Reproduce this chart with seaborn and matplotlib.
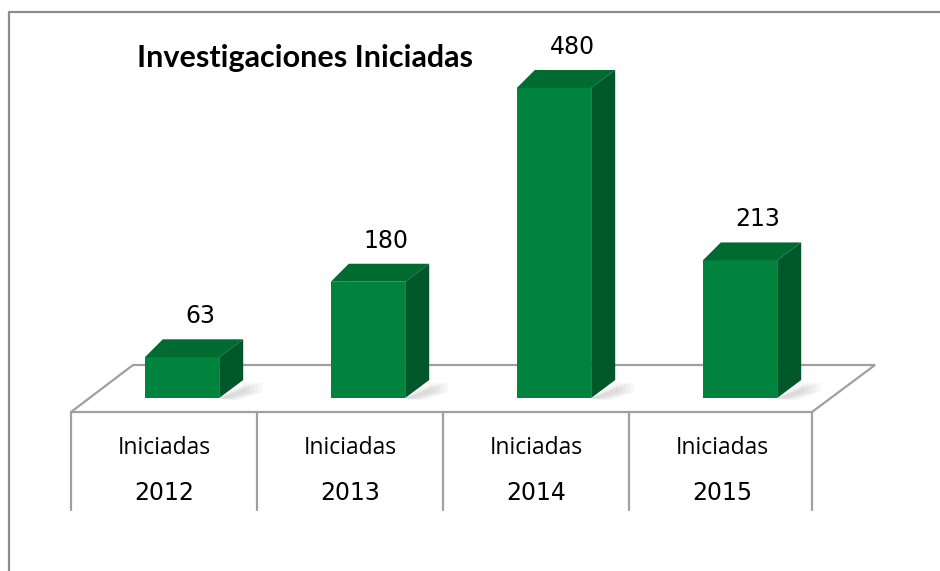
import pandas as pd
import seaborn as sns
import matplotlib.pyplot as plt
from matplotlib.patches import Polygon
from matplotlib.lines import Line2D

# chart data
years = ["2012", "2013", "2014", "2015"]
row_label = "Iniciadas"
values = [63, 180, 480, 213]
title = "Investigaciones Iniciadas"

W, H = 940, 571
front_color = "#00843d"
top_color = "#006b31"
side_color = "#00572a"
line_gray = "#a0a0a0"
frame_gray = "#8c8c8c"

sns.set_theme(style="white")
plt.rcParams["font.family"] = ["DejaVu Sans"]

fig = plt.figure(figsize=(W / 100, H / 100), dpi=100)
fig.patch.set_facecolor("white")


def ff(x, y):
    """pixel (from top-left) -> figure fraction"""
    return x / W, 1 - y / H


ax = fig.add_axes([89 / W, 1 - 398 / H, 744 / W, 310 / H])
df = pd.DataFrame({"year": years, "value": values})
sns.barplot(data=df, x="year", y="value", color=front_color, saturation=1,
            width=0.4, linewidth=0, ax=ax, zorder=4)
ax.set_xlim(-0.5, 3.5)
ax.set_ylim(0, 480)
ax.axis("off")

# depth of the fake 3d boxes (pixels)
dx_l, dx_r, dy = 18, 24, 18


def to_px(x, y):
    X, Y = ax.transData.transform((x, y))
    return X, H - Y


def poly(pts, **kw):
    p = Polygon([ff(*pt) for pt in pts], closed=True, transform=fig.transFigure,
                clip_on=False, **kw)
    ax.add_patch(p)


def line(xs, ys, **kw):
    xy = [ff(x, y) for x, y in zip(xs, ys)]
    ax.add_line(Line2D([p[0] for p in xy], [p[1] for p in xy],
                       transform=fig.transFigure, clip_on=False, **kw))


# floor and table, positioned from the category scale
x0, _ = to_px(-0.5, 0)
x1, _ = to_px(3.5, 0)
front_y, back_y = 412, 365
shift = 18
fl, fr = x0 - shift, x1 - shift - 3
poly([(fl, front_y), (fl + 62, back_y), (fr + 63, back_y), (fr, front_y)],
     facecolor="white", edgecolor=line_gray, lw=1.6, zorder=1)
for i in range(len(years) + 1):
    bx = to_px(i - 0.5, 0)[0] - shift if i < len(years) else fr
    line([bx, bx], [front_y, 510], color=line_gray, lw=1.6, zorder=1)

for i, yr in enumerate(years):
    cx = to_px(i, 0)[0] - shift
    fig.text(*ff(cx, 448), row_label, ha="center", va="center", fontsize=16.5,
             family=["Open Sans", "DejaVu Sans"], color="black")
    fig.text(*ff(cx, 493), yr, ha="center", va="center", fontsize=17,
             color="black")

# top and side faces + soft shadow for each bar
for bar, v in zip(ax.patches, values):
    xa, ya = to_px(bar.get_x(), bar.get_height())
    xb, yb = to_px(bar.get_x() + bar.get_width(), 0)
    for k in range(5):
        s = 3 + 4 * k
        poly([(xb, yb), (xb + dx_r + s, yb - dy + 2), (xb + dx_r + s, yb - 6), (xb + s, yb + 2)],
             facecolor="#808080", edgecolor="none", alpha=0.06, zorder=2)
    poly([(xa, ya), (xa + dx_l, ya - dy), (xb + dx_r, ya - dy), (xb, ya)],
         facecolor=top_color, edgecolor="none", zorder=5)
    poly([(xb, ya), (xb + dx_r, ya - dy), (xb + dx_r, yb - dy), (xb, yb)],
         facecolor=side_color, edgecolor="none", zorder=5)
    cx = (xa + xb) / 2 + 18
    fig.text(*ff(cx, ya - 41), f"{v}", ha="center", va="center",
             fontsize=17, color="black")

fig.text(*ff(305, 58), title, ha="center", va="center", fontsize=22,
         fontweight="bold", family=["Lato", "DejaVu Sans"], color="black")

# outer frame (top and left edges visible)
line([8.5, W], [12, 12], color=frame_gray, lw=1.6, zorder=1)
line([8.5, 8.5], [12, H], color=frame_gray, lw=1.6, zorder=1)

fig.savefig("out.png", dpi=100, facecolor="white")
